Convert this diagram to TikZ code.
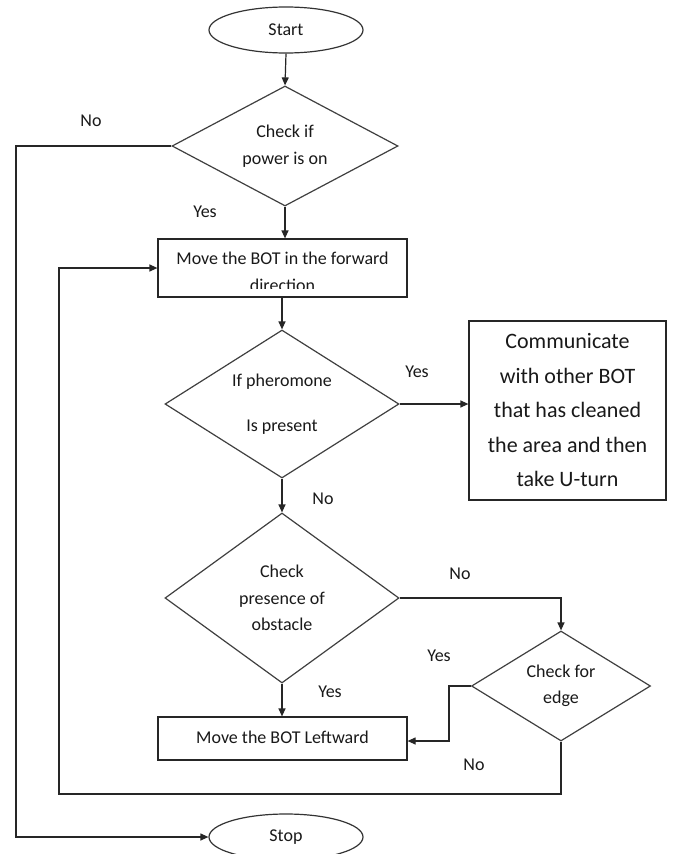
\documentclass[tikz,border=0pt]{standalone}
\usepackage{fontspec}
\setmainfont{Carlito}
\usetikzlibrary{shapes.geometric,arrows.meta}
\begin{document}
\begin{tikzpicture}[x=1pt,y=-1pt,
  every node/.style={font=\fontsize{18}{26.5}\selectfont, text=black!90},
  lbl/.style={inner sep=0pt},
  term/.style={ellipse, draw=black!80, line width=1.2pt, minimum width=154pt, minimum height=46pt, inner sep=0pt},
  dec/.style={diamond, draw=black!75, line width=1.2pt, inner sep=0pt, align=center},
  proc/.style={rectangle, draw=black!85, line width=1.2pt, inner sep=0pt},
  arr/.style={draw=black!85, line width=1.2pt, -{Triangle[length=8pt,width=7pt]}},
  ln/.style={draw=black!85, line width=1.2pt}]
\clip (0,0) rectangle (689,854);
\fill[white] (0,0) rectangle (689,854);

% nodes
\node[term] (start) at (286,30) {Start};
\node[dec, minimum width=226pt, minimum height=120pt, aspect=1.88] (d1) at (285,146) {Check if\\power is on};
\node[proc, minimum width=249pt, minimum height=58pt] (box1) at (282.5,268) {};
\begin{scope}
  \clip (158,239) rectangle (407,288.5);
  \node[align=center] (box1text) at (282.5,272) {Move the BOT in the forward\\direction};
\end{scope}
\node[dec, minimum width=234pt, minimum height=148pt, aspect=1.58, font=\fontsize{18}{45}\selectfont] (d2) at (282,404) {If pheromone\\Is present};
\node[proc, minimum width=197pt, minimum height=179pt, align=center, font=\fontsize{22}{34.5}\selectfont] (box2) at (567.5,410.5) {Communicate\\with other BOT\\that has cleaned\\the area and then\\take U-turn};
\node[dec, minimum width=234pt, minimum height=170pt, aspect=1.38] (d3) at (282,598) {Check\\presence of\\obstacle};
\node[dec, minimum width=179pt, minimum height=110pt, aspect=1.63] (d4) at (561,686) {Check for\\edge};
\node[proc, minimum width=249pt, minimum height=43pt] (box3) at (282.5,738.5) {\raisebox{3pt}{Move the BOT Leftward}};
\node[term] (stop) at (286,837) {Stop};

% helper coordinates
\coordinate (lx) at (16,146);
\coordinate (ym) at (449,741);
\coordinate (bl) at (59,794);

% connectors
\draw[arr] (start.south) -- (d1.north);
\draw[arr] (d1.south) -- (box1.north -| d1.south);
\draw[arr] (d1.west) -- (lx) |- (stop.west);
\draw[arr] (box1.south -| d2.north) -- (d2.north);
\draw[arr] (d2.east) -- (d2.east -| box2.west);
\draw[arr] (d2.south) -- (d3.north);
\draw[arr] (d3.east) -| (d4.north);
\draw[arr] (d3.south) -- (box3.north -| d3.south);
\draw[arr] (d4.west) -- (d4.west -| ym) -- (ym) -- (ym -| box3.east);
\draw[arr] (d4.south) |- (bl) |- (box1.west);

% labels
\node[lbl] (l1) at (91,121) {No};
\node[lbl] (l2) at (205,212) {Yes};
\node[lbl] (l3) at (417,372) {Yes};
\node[lbl] (l4) at (323,499) {No};
\node[lbl] (l5) at (460,574) {No};
\node[lbl] (l6) at (439,656) {Yes};
\node[lbl] (l7) at (330,692) {Yes};
\node[lbl] (l8) at (474,765) {No};
\end{tikzpicture}
\end{document}
